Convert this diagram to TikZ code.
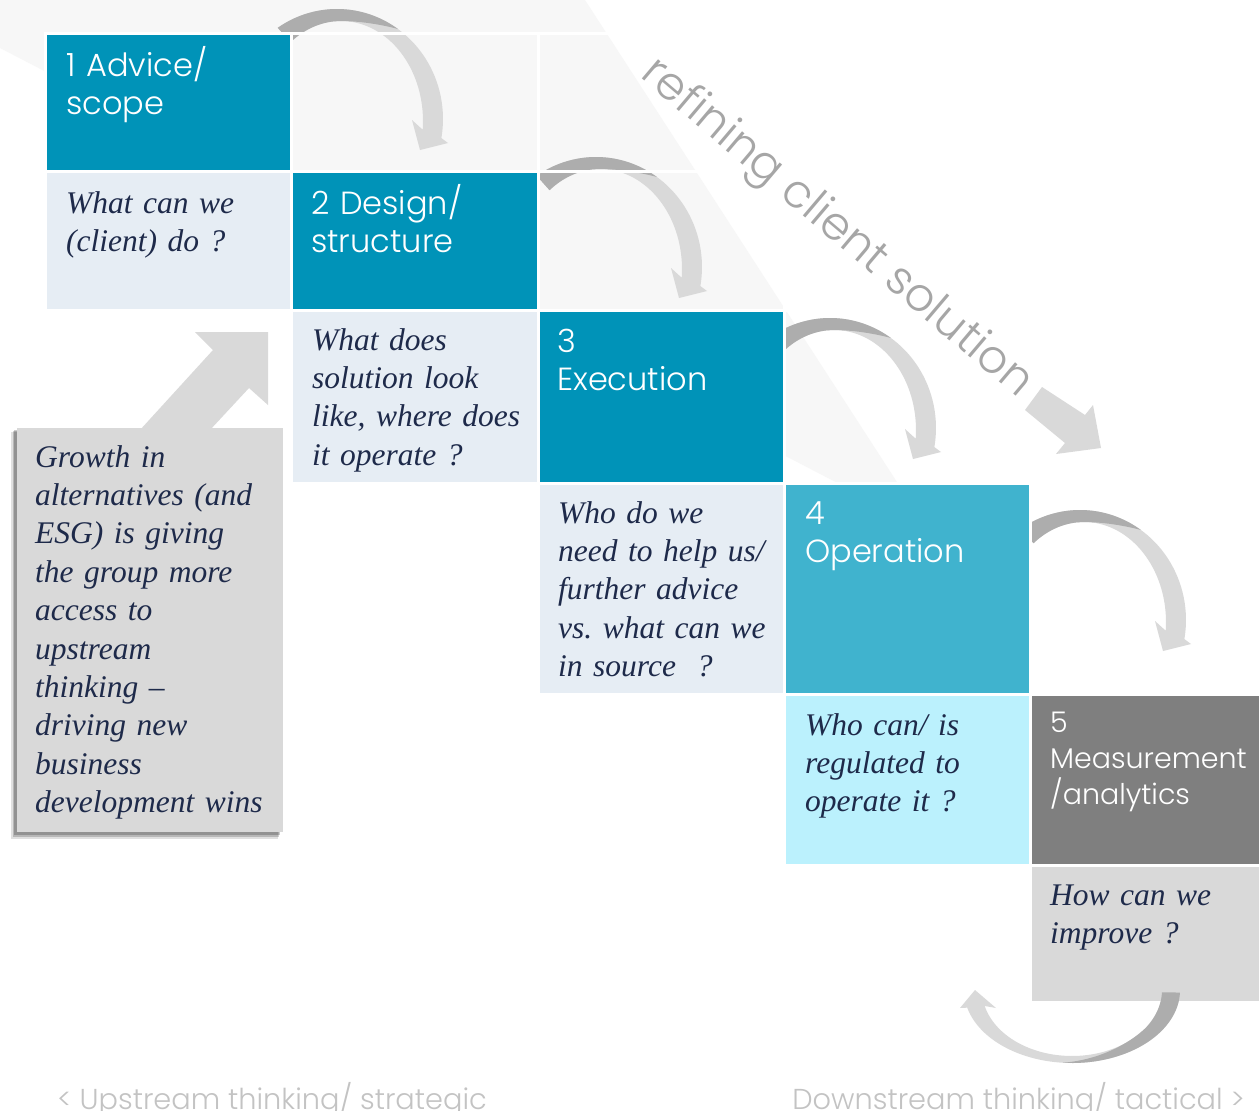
\documentclass[tikz,border=0pt]{standalone}
\usepackage{fontspec}
\setmainfont{Liberation Serif}
\newfontfamily\gothic{Poppins Light}
\frenchspacing
\definecolor{teal1}{RGB}{0,147,184}
\definecolor{teal2}{RGB}{64,179,206}
\definecolor{qblue}{RGB}{230,237,244}
\definecolor{qcyan}{RGB}{187,241,253}
\definecolor{gray5}{RGB}{127,127,127}
\definecolor{lgray}{RGB}{217,217,217}
\definecolor{bgtri}{RGB}{247,247,247}
\definecolor{adark}{RGB}{173,173,173}
\definecolor{alight}{RGB}{217,217,217}
\definecolor{navy}{RGB}{30,42,74}
\definecolor{reftxt}{RGB}{166,166,166}
\definecolor{bottxt}{RGB}{195,195,195}
\tikzset{
  cellline/.style={draw=white, line width=3pt},
  hdr/.style={anchor=base west, inner sep=0pt, text=white, text width=240pt, align=left,
    font=\gothic\fontsize{32}{38}\selectfont},
  qtxt/.style={anchor=base west, inner sep=0pt, text=navy, text width=250pt, align=left,
    font=\itshape\fontsize{31.5}{38.4}\selectfont},
  bottom/.style={inner sep=0pt, text=bottxt, font=\gothic\fontsize{28.8}{34}\selectfont}
}
\newcommand{\cellbox}[5]{\filldraw[cellline, fill=#5] (#1,#2) rectangle (#3,#4);}
\newcommand{\emptycell}[4]{\draw[cellline] (#1,#2) rectangle (#3,#4);}
\newcommand{\curvedarrowat}[2]{%
\begin{scope}[shift={(#1,#2)}]
\fill[alight] plot[domain=124:-10,samples=50] ({48+106*cos(\x)},{110-110*sin(\x)}) -- (159,134) -- (131,141) -- (123,111) -- plot[domain=-5:128,samples=50] ({52+82*cos(\x)},{112-100*sin(\x)}) -- cycle;
\fill[adark] plot[domain=124:55,samples=40] ({48+106*cos(\x)},{110-110*sin(\x)}) .. controls (90,15) and (65,11) .. ({52+82*cos(95)},{112-100*sin(95)}) -- plot[domain=95:128,samples=20] ({52+82*cos(\x)},{112-100*sin(\x)}) -- cycle;
\end{scope}}
\begin{document}
\begin{tikzpicture}[x=1pt,y=-1pt]
\useasboundingbox (0,0) rectangle (1259,1111);
\fill[white] (0,0) rectangle (1259,1111);
% background triangle
\fill[bgtri] (0,48) -- (0,0) -- (585,0) -- (928,530) -- cycle;
% curved arrows (behind the grid)
\curvedarrowat{289}{9}
\curvedarrowat{548}{157}
\curvedarrowat{782}{318}
\curvedarrowat{1032}{510}
% empty grid cells
\emptycell{291.5}{33.5}{538.5}{171.5}
\emptycell{538.5}{33.5}{784}{171.5}
\emptycell{784}{33.5}{1030.5}{171.5}
\emptycell{1030.5}{33.5}{1262}{171.5}
\emptycell{538.5}{171.5}{784}{310}
\emptycell{784}{171.5}{1030.5}{310}
\emptycell{1030.5}{171.5}{1262}{310}
\emptycell{784}{310}{1030.5}{483}
\emptycell{1030.5}{310}{1262}{483}
\emptycell{1030.5}{483}{1262}{694}
% coloured cells
\cellbox{45.5}{33.5}{291.5}{171.5}{teal1}
\cellbox{45.5}{171.5}{291.5}{310}{qblue}
\cellbox{291.5}{171.5}{538.5}{310}{teal1}
\cellbox{291.5}{310}{538.5}{483}{qblue}
\cellbox{538.5}{310}{784}{483}{teal1}
\cellbox{538.5}{483}{784}{694}{qblue}
\cellbox{784}{483}{1030.5}{694}{teal2}
\cellbox{784}{694}{1030.5}{865}{qcyan}
\cellbox{1030.5}{694}{1262}{865}{gray5}
\cellbox{1030.5}{865}{1262}{1002}{lgray}
% up-right arrow behind the growth box
\fill[lgray] (140,430) -- (213,350) -- (195,332) -- (268,332) -- (268,405) -- (249,388) -- (210,430) -- cycle;
% growth box with shadow
\fill[black, opacity=0.12] (11,432) rectangle (278,839);
\fill[black, opacity=0.18] (13,431) rectangle (279,837);
\fill[black, opacity=0.2] (14,430) rectangle (280,835);
\fill[lgray] (17,428) rectangle (283,832);
% texts
\node[hdr] (h1) at (66,76) {1 Advice/\\scope};
\node[hdr] (h2) at (311,214) {2 Design/\\structure};
\node[hdr] (h3) at (557,352) {3\\Execution};
\node[hdr] (h4) at (805,524) {4\\Operation};
\node[hdr, font=\gothic\fontsize{28.5}{36}\selectfont] (h5) at (1050,732) {5\\Measurement\\/analytics};
\node[qtxt] (q1) at (66,213) {What can we\\(client) do ?};
\node[qtxt] (q2) at (312,350) {What does\\solution look\\like, where does\\it operate ?};
\node[qtxt] (q3) at (558,523) {Who do we\\need to help us/\\further advice\\vs. what can we\\in source~~?};
\node[qtxt] (q4) at (805,735) {Who can/ is\\regulated to\\operate it ?};
\node[qtxt] (q5) at (1050,905) {How can we\\improve ?};
\node[qtxt] (g) at (35,467) {Growth in\\alternatives (and\\ESG) is giving\\the group more\\access to\\upstream\\thinking --\\driving new\\business\\development wins};
% U-turn arrow below box 5
\fill[alight] plot[domain=-2:-166,samples=60] ({1072+108*cos(\x)},{990-73*sin(\x)}) -- (960,1008) -- (975,990) -- (996,1008) -- plot[domain=-166:-2,samples=60] ({1072+90*cos(\x)},{990-66*sin(\x)}) -- cycle;
\fill[adark] plot[domain=-2:-95,samples=50] ({1072+108*cos(\x)},{990-73*sin(\x)}) .. controls (1100,1060) and (1130,1043) .. ({1072+90*cos(-35)},{990-66*sin(-35)}) -- plot[domain=-35:-2,samples=30] ({1072+90*cos(\x)},{990-66*sin(\x)}) -- cycle;
% diagonal label and arrow
\node[inner sep=0pt, text=reftxt, rotate=-40.3, font=\gothic\fontsize{46}{52}\selectfont] (refine) at (836,229) {refining client solution};
\fill[lgray] (1042,387) -- (1085,415) -- (1093,405) -- (1101,448) -- (1056,454) -- (1065,443) -- (1025,410) -- cycle;
% bottom labels
\node[bottom, anchor=base west] (up) at (57,1109) {< Upstream thinking/ strategic};
\node[bottom, anchor=base east] (down) at (1245,1109) {Downstream thinking/ tactical >};
\end{tikzpicture}
\end{document}
